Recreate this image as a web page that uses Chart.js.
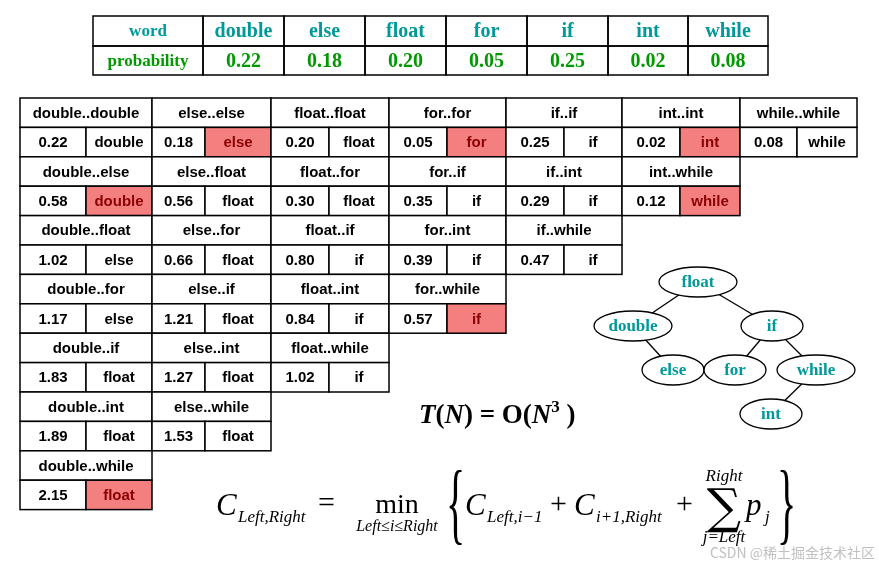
<!DOCTYPE html>
<html><head><meta charset="utf-8">
<script src="https://cdn.jsdelivr.net/npm/chart.js"></script>
<style>html,body{margin:0;padding:0;background:#fff}canvas{display:block}</style>
</head><body>
<canvas id="c" width="879" height="566"></canvas>
<script>
const words = ["double","else","float","for","if","int","while"];
const probs = ["0.22","0.18","0.20","0.05","0.25","0.02","0.08"];
// cost table rows by span length: [cost, root, highlighted]
const costRows = [
  [["0.22","double",0],["0.18","else",1],["0.20","float",0],["0.05","for",1],["0.25","if",0],["0.02","int",1],["0.08","while",0]],
  [["0.58","double",1],["0.56","float",0],["0.30","float",0],["0.35","if",0],["0.29","if",0],["0.12","while",1]],
  [["1.02","else",0],["0.66","float",0],["0.80","if",0],["0.39","if",0],["0.47","if",0]],
  [["1.17","else",0],["1.21","float",0],["0.84","if",0],["0.57","if",1]],
  [["1.83","float",0],["1.27","float",0],["1.02","if",0]],
  [["1.89","float",0],["1.53","float",0]],
  [["2.15","float",1]]
];
const treeNodes = [["float",698,282],["double",633,326],["if",772,326],["else",673,370],["for",735,370],["while",816,370],["int",771,414]];
const treeEdges = [[0,1],[0,2],[1,3],[2,4],[2,5],[5,6]];
const colX = [20,152,271,389,506,622,740,857];
const colSplit = [86,205,329,447,564,680,797];

const teal="#009999", green="#009900";
const plugin = {id:"diagram", afterDraw(chart){
  const ctx=chart.ctx, sx=chart.scales.x, sy=chart.scales.y;
  const X=v=>sx.getPixelForValue(v), Y=v=>sy.getPixelForValue(v);
  ctx.save();
  function cell(x0,y0,x1,y1,txt,font,color,fill){
    if(fill){ctx.fillStyle=fill;ctx.fillRect(X(x0),Y(y0),X(x1)-X(x0),Y(y1)-Y(y0));}
    ctx.strokeStyle="#000";ctx.lineWidth=1.5;
    ctx.strokeRect(X(x0),Y(y0),X(x1)-X(x0),Y(y1)-Y(y0));
    ctx.font=font;ctx.fillStyle=color;ctx.textAlign="center";ctx.textBaseline="middle";
    ctx.fillText(txt,(X(x0)+X(x1))/2,(Y(y0)+Y(y1))/2+1);
  }
  const tx=[93,203,284,365,446,527,608,688,768];
  cell(93,16,203,46,"word","bold 17px 'Liberation Serif'",teal);
  cell(93,46,203,75,"probability","bold 17px 'Liberation Serif'",green);
  words.forEach((w,i)=>{
    cell(tx[i+1],16,tx[i+2],46,w,"bold 20px 'Liberation Serif'",teal);
    cell(tx[i+1],46,tx[i+2],75,probs[i],"bold 20px 'Liberation Serif'",green);
  });
  const f="bold 15px 'Liberation Sans'";
  costRows.forEach((row,r)=>{
    const y0=98+r*58.8;
    row.forEach((c,i)=>{
      const a=colX[i], b=colX[i+1];
      cell(a,y0,b,y0+29.4,words[i]+".."+words[i+r],f,"#000","#fff");
      cell(a,y0+29.4,colSplit[i],y0+58.8,c[0],f,"#000","#fff");
      cell(colSplit[i],y0+29.4,b,y0+58.8,c[1],f,c[2]?"#8b0000":"#000",c[2]?"#f47f7f":"#fff");
    });
  });
  ctx.strokeStyle="#000";ctx.lineWidth=1.3;
  treeEdges.forEach(([a,b])=>{ctx.beginPath();ctx.moveTo(X(treeNodes[a][1]),Y(treeNodes[a][2]));ctx.lineTo(X(treeNodes[b][1]),Y(treeNodes[b][2]));ctx.stroke();});
  treeNodes.forEach(([t,x,y])=>{
    const rx=t.length>4?39:31;
    ctx.beginPath();ctx.ellipse(X(x),Y(y),rx,15,0,0,Math.PI*2);ctx.fillStyle="#fff";ctx.fill();ctx.stroke();
    ctx.font="bold 17px 'Liberation Serif'";ctx.fillStyle=teal;ctx.textAlign="center";ctx.textBaseline="middle";ctx.fillText(t,X(x),Y(y)+1);
  });
  ctx.fillStyle="#000";ctx.textAlign="left";ctx.textBaseline="alphabetic";
  let x=X(419);const yb=Y(423);
  function put(t,font,dy=0){ctx.font=font;ctx.fillText(t,x,yb+dy);x+=ctx.measureText(t).width;}
  const bi="italic bold 27px 'Liberation Serif'", bb="bold 27px 'Liberation Serif'";
  put("T",bi);put("(",bb);put("N",bi);put(") = O(",bb);put("N",bi);put("3","bold 17px 'Liberation Serif'",-11);put(" )",bb);
  function txt(t,font,px,py,align="left"){ctx.font=font;ctx.textAlign=align;ctx.fillText(t,X(px),Y(py));}
  const it="italic 31px 'Liberation Serif'", sub="italic 17px 'Liberation Serif'";
  txt("C",it,216,515);txt("Left,Right",sub,238,522);
  txt("=","30px 'Liberation Serif'",318,512);
  txt("min","28px 'Liberation Serif'",397,513,"center");txt("Left≤i≤Right","italic 16px 'Liberation Serif'",397,531,"center");
  ctx.save();ctx.translate(X(446),Y(533));ctx.scale(1,2.3);ctx.font="40px 'Liberation Serif'";ctx.textAlign="left";ctx.fillText("{",0,0);ctx.restore();
  txt("C",it,465,515);txt("Left,i−1",sub,487,522);
  txt("+","30px 'Liberation Serif'",550,513);
  txt("C",it,574,515);txt("i+1,Right",sub,596,522);
  txt("+","30px 'Liberation Serif'",676,513);
  txt("∑","48px 'DejaVu Serif'",724,523,"center");
  txt("Right",sub,724,481,"center");txt("j=Left",sub,724,542,"center");
  txt("p",it,746,515);txt("j",sub,765,522);
  ctx.save();ctx.translate(X(777),Y(533));ctx.scale(1,2.3);ctx.font="40px 'Liberation Serif'";ctx.textAlign="left";ctx.fillText("}",0,0);ctx.restore();
  ctx.fillStyle="rgba(150,150,150,0.6)";
  txt("CSDN @稀土掘金技术社区","14px 'Noto Sans CJK SC'",875,558,"right");
  ctx.restore();
}};
new Chart(document.getElementById("c"),{
  type:"scatter",
  data:{datasets:[{data:[],pointRadius:0}]},
  options:{responsive:false,animation:false,layout:{padding:0},
    plugins:{legend:{display:false},tooltip:{enabled:false}},
    scales:{x:{type:"linear",min:0,max:879,display:false},y:{type:"linear",min:0,max:566,reverse:true,display:false}}},
  plugins:[plugin]
});
</script></body></html>
